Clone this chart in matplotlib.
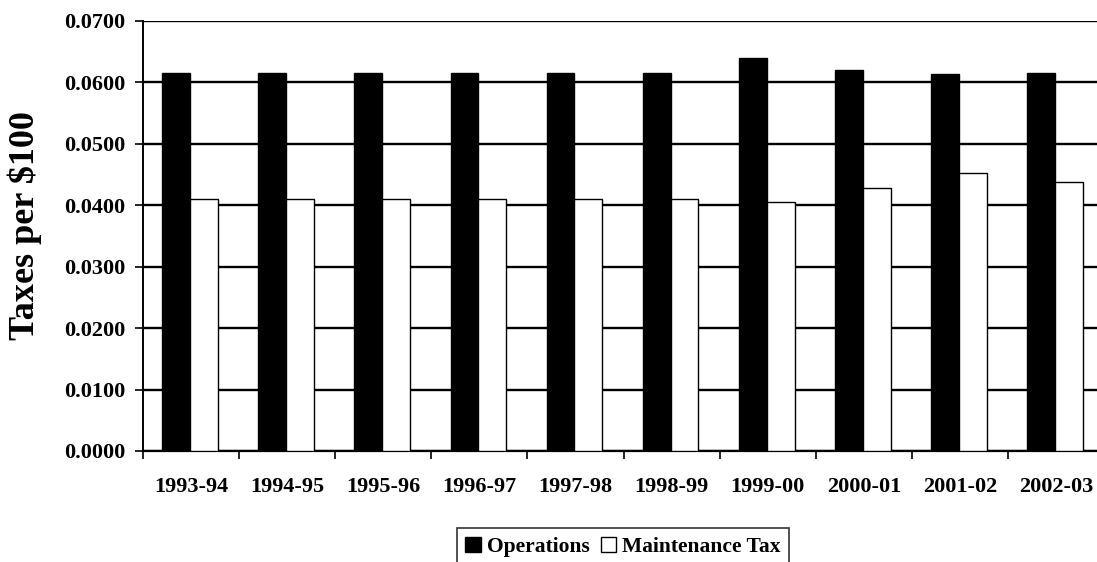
import matplotlib
matplotlib.use("Agg")
import matplotlib.pyplot as plt
import numpy as np
from matplotlib.patches import Patch
from matplotlib.ticker import FormatStrFormatter, MultipleLocator

years = ["1993-94", "1994-95", "1995-96", "1996-97", "1997-98",
         "1998-99", "1999-00", "2000-01", "2001-02", "2002-03"]
operations = [0.0615, 0.0615, 0.0615, 0.0615, 0.0615,
              0.0615, 0.0640, 0.0621, 0.0614, 0.0615]
maintenance = [0.0410, 0.0410, 0.0410, 0.0410, 0.0410,
               0.0410, 0.0405, 0.0428, 0.0452, 0.0438]
series_names = ["Operations", "Maintenance Tax"]

plt.rcParams['font.family'] = ['Liberation Serif', 'DejaVu Serif']
plt.rcParams['font.weight'] = 'bold'

fig = plt.figure(figsize=(10.97, 5.62), dpi=100)
ax = fig.add_axes([143 / 1097, (562 - 451) / 562, 961 / 1097, 430 / 562])

x = np.arange(len(years))
w = 0.29
shift = -0.01
ax.bar(x + shift - w / 2, operations, w, color='black', edgecolor='black',
       linewidth=1, zorder=3)
ax.bar(x + shift + w / 2, maintenance, w, color='white', edgecolor='black',
       linewidth=1, zorder=3)

ax.set_xlim(-0.5, len(years) - 0.5)
ax.set_ylim(0, 0.07)
ax.yaxis.set_major_locator(MultipleLocator(0.01))
ax.yaxis.set_major_formatter(FormatStrFormatter('%.4f'))
ax.grid(axis='y', color='black', linewidth=1.7, zorder=0)
ax.set_axisbelow(True)

# category boundary ticks (no labels) and centered labels
ax.set_xticks(np.arange(-0.5, len(years) - 0.4, 1.0))
ax.set_xticklabels([])
ax.set_xticks(x, minor=True)
ax.set_xticklabels(years, minor=True, fontsize=16, fontweight='bold')
ax.tick_params(axis='x', which='minor', length=0, pad=19)
ax.tick_params(axis='x', which='major', length=6, width=1.2, direction='out')
ax.tick_params(axis='y', length=6, width=1.2, direction='out', labelsize=16, pad=7)
for lab in ax.get_yticklabels():
    lab.set_fontweight('bold')

for s in ['top', 'right']:
    ax.spines[s].set_visible(False)
ax.spines['left'].set_linewidth(1.4)
ax.spines['bottom'].set_linewidth(1.6)

fig.text(25 / 1097, (562 - 226) / 562, "Taxes per $100", rotation=90,
         ha='center', va='center', fontsize=26, fontweight='bold')

handles = [Patch(facecolor='black', edgecolor='black', label=series_names[0]),
           Patch(facecolor='white', edgecolor='black', label=series_names[1])]
leg = fig.legend(handles=handles, loc='upper center',
                 bbox_to_anchor=(623 / 1097, (562 - 528) / 562), ncol=2,
                 fancybox=False, frameon=True, edgecolor='black',
                 prop={'size': 15.5, 'weight': 'bold'}, handlelength=0.7,
                 handleheight=0.7, handletextpad=0.3, columnspacing=0.5,
                 borderpad=0.4, borderaxespad=0)
leg.get_frame().set_linewidth(1.2)

fig.savefig("out.png", dpi=100)
